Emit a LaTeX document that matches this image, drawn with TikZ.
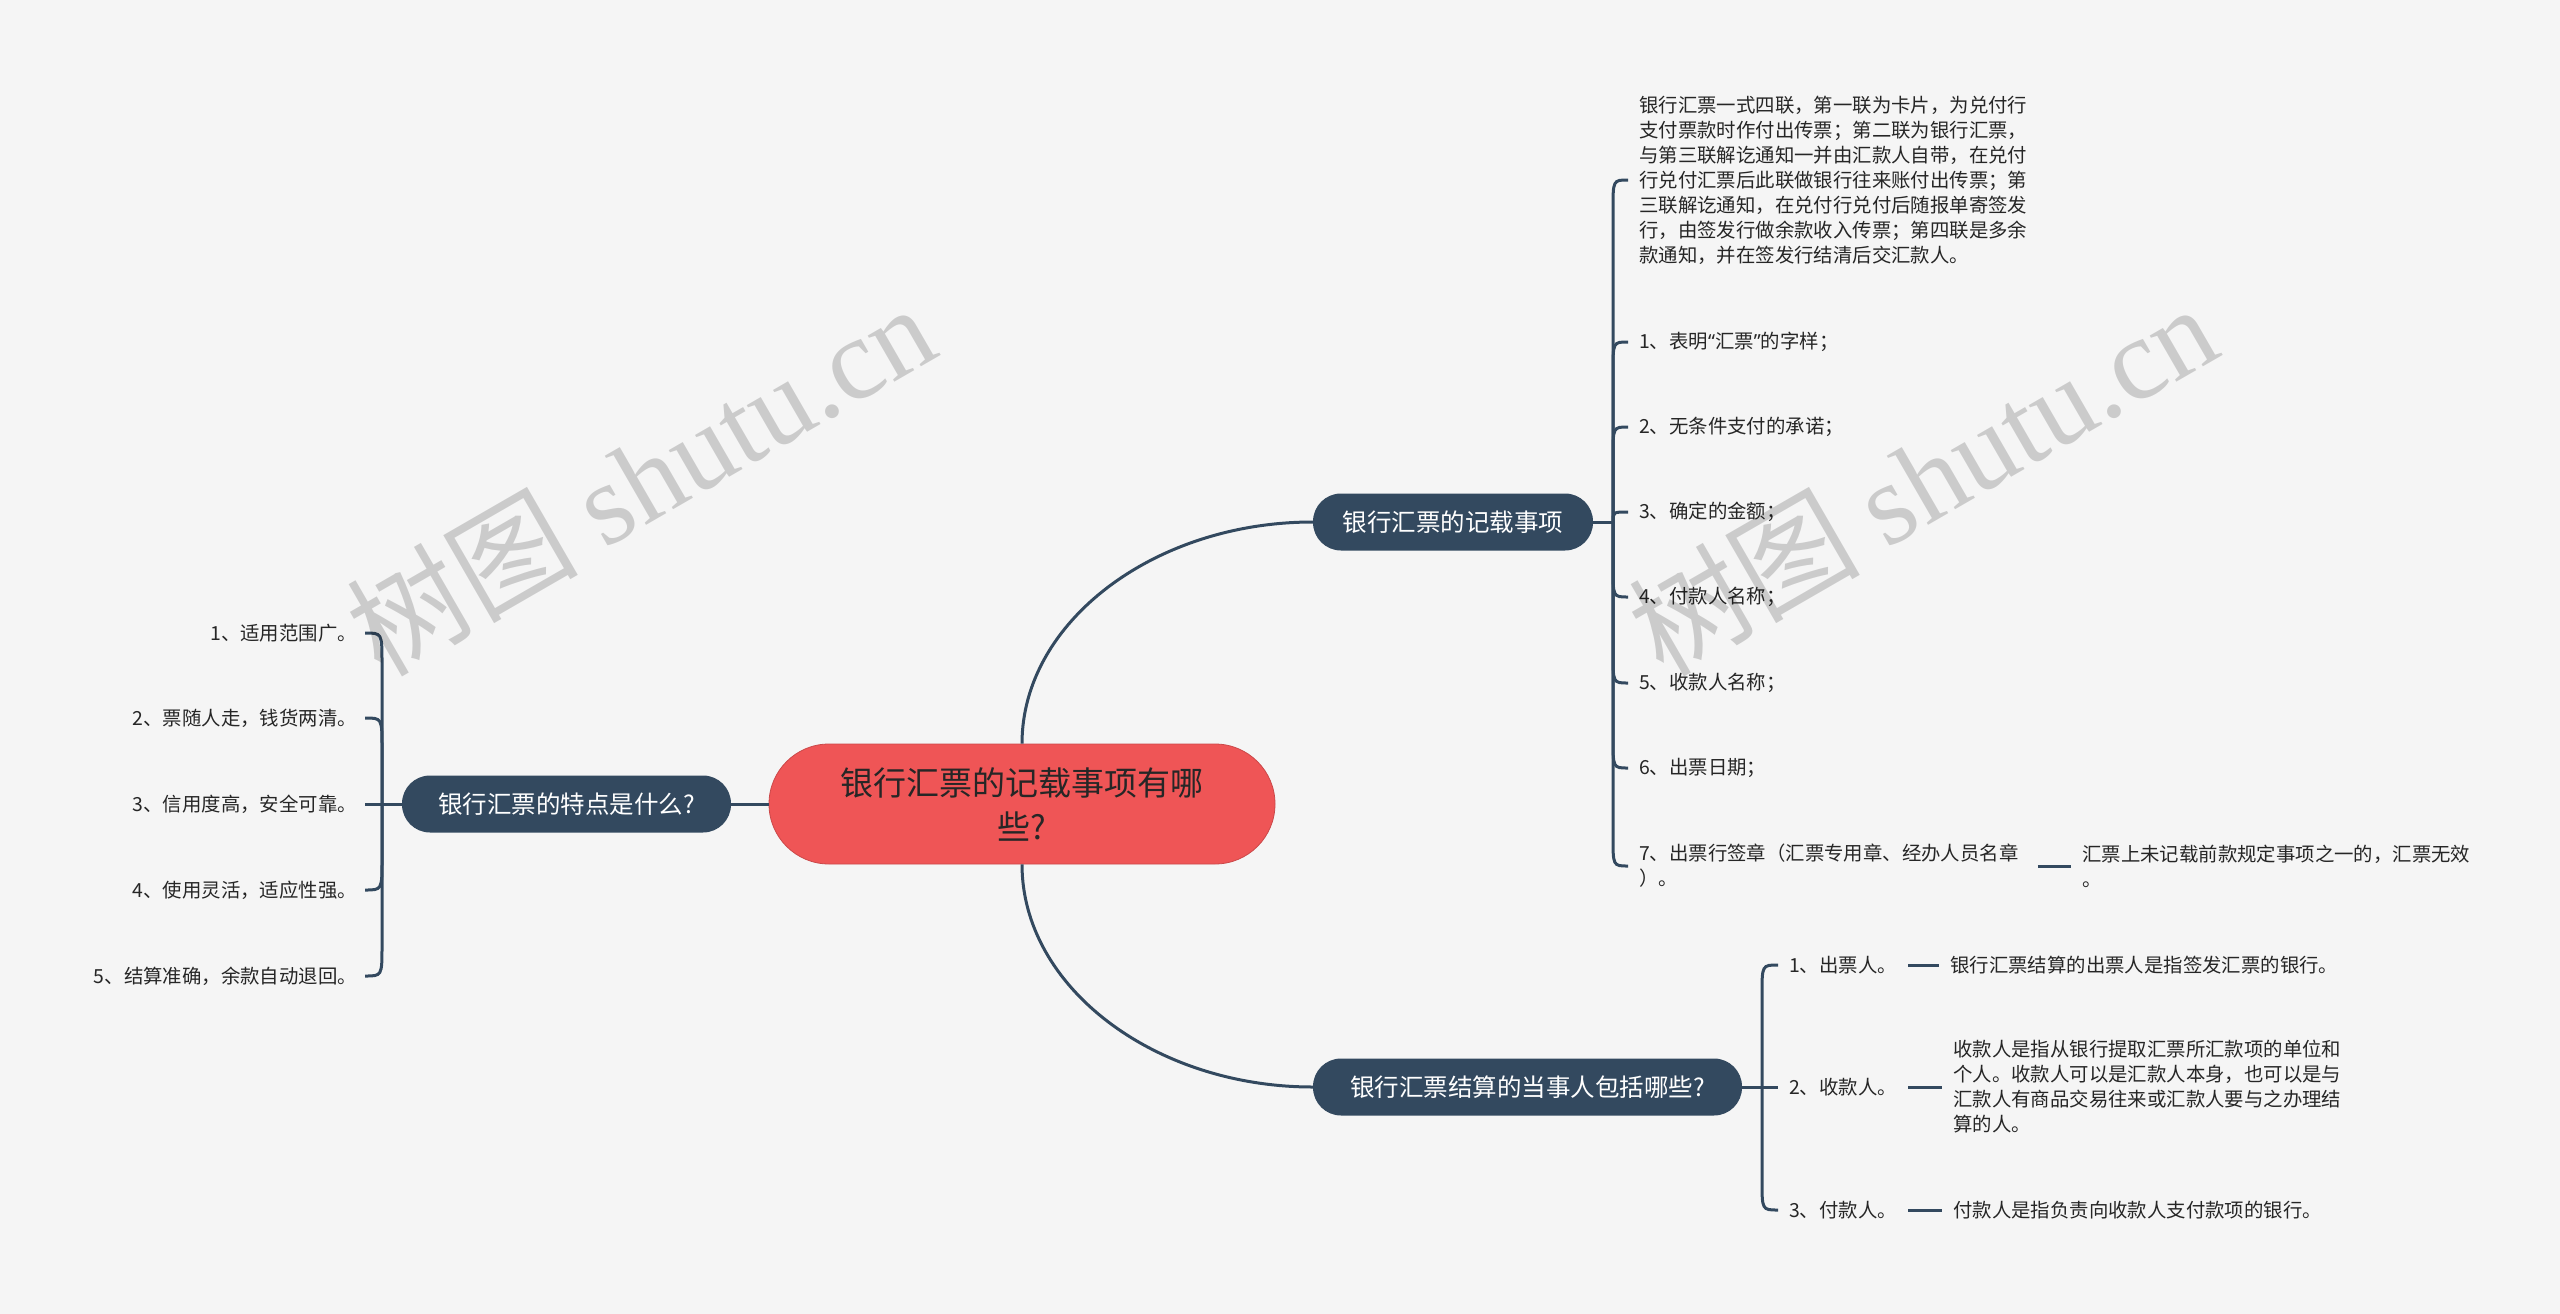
\documentclass[tikz,border=0pt]{standalone}
\usepackage{fontspec}
\setmainfont{Noto Sans CJK SC}
\newfontfamily\wmfont{Liberation Serif}
\newfontfamily\qfont{Noto Sans}
\usepackage{xcolor}
\usepackage{tikz}
\usetikzlibrary{calc}

\definecolor{nodeblue}{RGB}{51,73,95}
\definecolor{rootred}{RGB}{239,85,86}
\definecolor{paper}{RGB}{245,245,245}

% bracket hook: junction -> child anchor
\newcommand{\hook}[2]{%
  \draw[link] (#1) -- ($(#1 |- #2)!30pt!(#1)$) .. controls (#1 |- #2) .. (#2);}

\begin{document}
\begin{tikzpicture}[x=1pt, y=-1pt,
  link/.style={draw=nodeblue, line width=3pt},
  rootbox/.style={fill=rootred, draw=rootred!85!black, line width=0.8pt, rounded corners=60pt,
    minimum width=506pt, minimum height=120pt, align=center, text=black!85,
    font=\fontsize{33}{44}\selectfont},
  topic/.style={fill=nodeblue, text=white, rounded corners=28pt, minimum height=57pt,
    inner xsep=0pt, font=\fontsize{24.5}{30}\selectfont},
  leaf/.style={text=black!85, inner xsep=11pt, inner ysep=2pt, align=left,
    font=\fontsize{19.4}{25}\selectfont},
  wmark/.style={text=black, text opacity=0.17, rotate=30, font=\fontsize{116}{116}\selectfont}]

% Background
\fill[paper] (0,0) rectangle (2560,1314);
\useasboundingbox (0,0) rectangle (2560,1314);

% Main topics
\node[rootbox] (root) at (1022,804) {银行汇票的记载事项有哪\\些?};
\node[topic, minimum width=280pt] (rec) at (1453,522) {银行汇票的记载事项};
\node[topic, minimum width=429pt] (party) at (1527.5,1087) {银行汇票结算的当事人包括哪些?};
\node[topic, minimum width=329pt] (feat) at (566.5,804) {银行汇票的特点是什么?};

% Junctions
\coordinate (recj) at (1613,522);
\coordinate (partyj) at (1762,1087);
\coordinate (featj) at (382,804);

% Items of the record
\node[leaf, anchor=west] (recnote) at (1628,180) {银行汇票一式四联，第一联为卡片，为兑付行\\支付票款时作付出传票；第二联为银行汇票，\\与第三联解讫通知一并由汇款人自带，在兑付\\行兑付汇票后此联做银行往来账付出传票；第\\三联解讫通知，在兑付行兑付后随报单寄签发\\行，由签发行做余款收入传票；第四联是多余\\款通知，并在签发行结清后交汇款人。};
\node[leaf, anchor=west] (rec1) at (1628,342) {1、表明{\qfont “}汇票{\qfont ”}的字样；};
\node[leaf, anchor=west] (rec2) at (1628,427) {2、无条件支付的承诺；};
\node[leaf, anchor=west] (rec3) at (1628,512) {3、确定的金额；};
\node[leaf, anchor=west] (rec4) at (1628,597) {4、付款人名称；};
\node[leaf, anchor=west] (rec5) at (1628,683) {5、收款人名称；};
\node[leaf, anchor=west] (rec6) at (1628,768) {6、出票日期；};
\node[leaf, anchor=west] (rec7) at (1628,866) {7、出票行签章（汇票专用章、经办人员名章\\）。};
\node[leaf, anchor=west] (rec7x) at (2071,866) {汇票上未记载前款规定事项之一的，汇票无效\\。};

% Parties
\node[leaf, anchor=west] (party1) at (1778,965) {1、出票人。};
\node[leaf, anchor=west] (party2) at (1778,1087) {2、收款人。};
\node[leaf, anchor=west] (party3) at (1778,1210) {3、付款人。};
\node[leaf, anchor=west] (party1x) at (1939,965) {银行汇票结算的出票人是指签发汇票的银行。};
\node[leaf, anchor=west] (party2x) at (1942,1087) {收款人是指从银行提取汇票所汇款项的单位和\\个人。收款人可以是汇款人本身，也可以是与\\汇款人有商品交易往来或汇款人要与之办理结\\算的人。};
\node[leaf, anchor=west] (party3x) at (1942,1210) {付款人是指负责向收款人支付款项的银行。};

% Features
\node[leaf, anchor=east, inner xsep=8pt] (feat1) at (365,633) {1、适用范围广。};
\node[leaf, anchor=east, inner xsep=8pt] (feat2) at (365,718) {2、票随人走，钱货两清。};
\node[leaf, anchor=east, inner xsep=8pt] (feat3) at (365,804) {3、信用度高，安全可靠。};
\node[leaf, anchor=east, inner xsep=8pt] (feat4) at (365,890) {4、使用灵活，适应性强。};
\node[leaf, anchor=east, inner xsep=8pt] (feat5) at (365,976) {5、结算准确，余款自动退回。};

% Root links
\draw[link] (root.north) .. controls +(0,-122) and +(-158,0) .. (rec.west);
\draw[link] (root.south) .. controls +(0,123) and +(-158,0) .. (party.west);
\draw[link] (root.west) -- (feat.east);

% Record bracket
\draw[link] (rec.east) -- (recj);
\hook{recj}{recnote.west}
\hook{recj}{rec1.west}
\hook{recj}{rec2.west}
\draw[link] (recj) .. controls (recj |- rec3.west) .. (rec3.west);
\hook{recj}{rec4.west}
\hook{recj}{rec5.west}
\hook{recj}{rec6.west}
\hook{recj}{rec7.west}
\draw[link, shorten <=8pt] (rec7.east) -- (rec7x.west);

% Party bracket
\draw[link] (party.east) -- (partyj);
\hook{partyj}{party1.west}
\draw[link] (partyj) -- (party2.west);
\hook{partyj}{party3.west}
\draw[link] (party1.east) -- (party1x.west);
\draw[link] (party2.east) -- (party2x.west);
\draw[link] (party3.east) -- (party3x.west);

% Feature bracket
\draw[link] (feat.west) -- (featj);
\hook{featj}{feat1.east}
\hook{featj}{feat2.east}
\draw[link] (featj) -- (feat3.east);
\hook{featj}{feat4.east}
\hook{featj}{feat5.east}

% Watermarks
\node[wmark] (wmA) at (640,478) {树图 {\wmfont shutu.cn}};
\node[wmark] (wmB) at (1922,478) {树图 {\wmfont shutu.cn}};

\end{tikzpicture}
\end{document}
